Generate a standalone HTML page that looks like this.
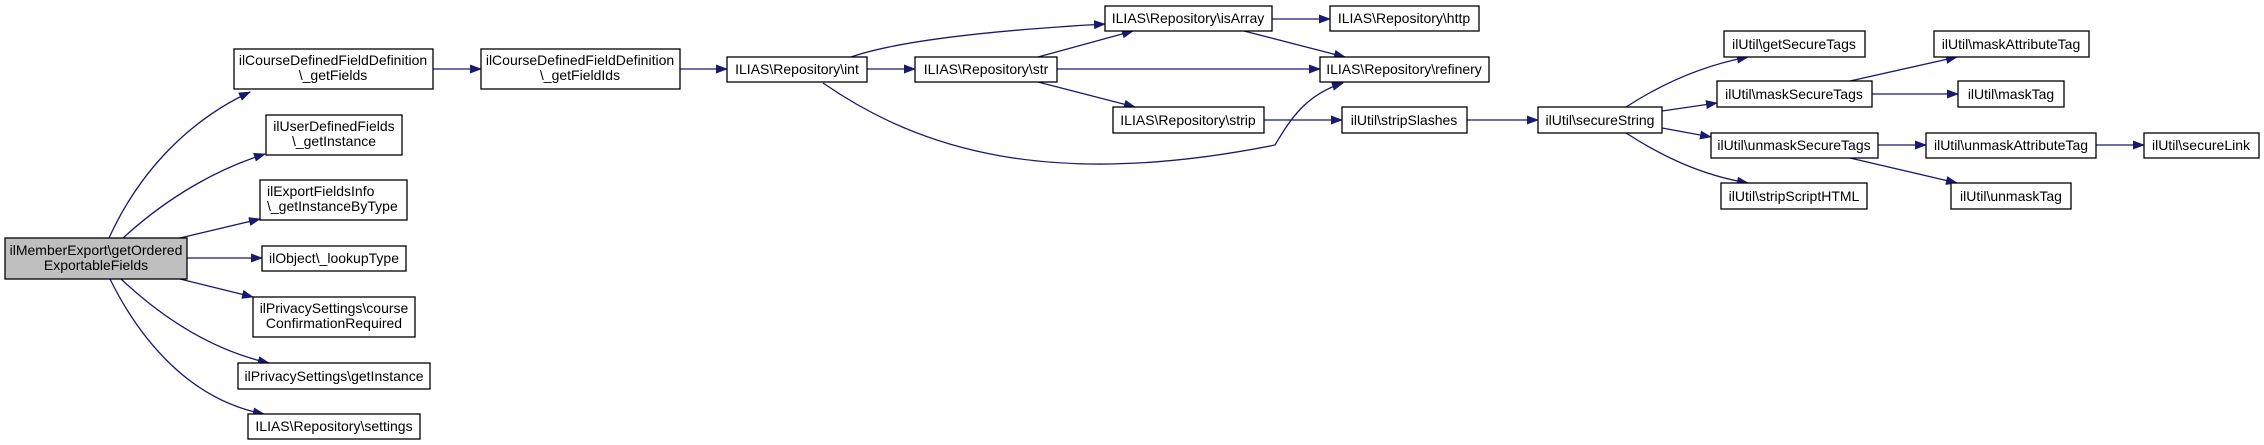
<!DOCTYPE html>
<html><head><meta charset="utf-8"><style>
html,body{margin:0;padding:0;background:#fff;}
svg{display:block;}
text{font-family:"Liberation Sans",Arial,sans-serif;font-size:14px;fill:#000;}
</style></head><body>
<svg width="2264" height="445" viewBox="0 0 2264 445" xmlns="http://www.w3.org/2000/svg">
<defs>
<marker id="a" markerWidth="12" markerHeight="9" refX="11" refY="4.5" orient="auto" markerUnits="userSpaceOnUse">
<path d="M0,0 L12,4.5 L0,9 Z" fill="#191970"/>
</marker>
</defs>
<g fill="none" stroke="#191970" stroke-width="1.3" marker-end="url(#a)">
<path d="M109,238 C140,170 190,120 250,92"/>
<path d="M123,238 C170,195 220,168 265,154"/>
<path d="M180,238 L260,219"/>
<path d="M187,258 L262,258"/>
<path d="M180,279 L253,297"/>
<path d="M121,279 C170,325 220,352 269,363"/>
<path d="M110,279 C140,340 190,400 264,414"/>
<path d="M433,69 L481,69"/>
<path d="M680,69 L727,69"/>
<path d="M851,57 C900,40 1000,30 1105,24"/>
<path d="M867,69 L915,69"/>
<path d="M823,83 C920,150 1050,190 1275,145 C1290,120 1305,95 1343,83"/>
<path d="M1038,57 L1133,31"/>
<path d="M1057,69 L1320,69"/>
<path d="M1038,82 L1135,107"/>
<path d="M1272,19 L1330,19"/>
<path d="M1244,31 L1345,57"/>
<path d="M1264,120 L1342,120"/>
<path d="M1467,120 L1538,120"/>
<path d="M1626,107 C1660,85 1700,66 1748,57"/>
<path d="M1662,111 L1717,103"/>
<path d="M1662,128 L1711,137"/>
<path d="M1626,133 C1660,155 1700,175 1748,183"/>
<path d="M1850,81 L1957,57"/>
<path d="M1872,94 L1958,94"/>
<path d="M1878,145 L1926,145"/>
<path d="M2096,145 L2144,145"/>
<path d="M1850,158 L1957,183"/>
</g>
<g stroke="#000" stroke-width="1.3" fill="#fff">
<rect x="5" y="238" width="182" height="41" fill="#bfbfbf"/>
<rect x="234" y="49" width="199" height="40"/>
<rect x="481" y="49" width="199" height="40"/>
<rect x="266" y="115" width="136" height="40"/>
<rect x="260" y="180" width="147" height="40"/>
<rect x="262" y="246" width="144" height="25"/>
<rect x="253" y="297" width="162" height="40"/>
<rect x="238" y="363" width="192" height="26"/>
<rect x="248" y="414" width="172" height="25"/>
<rect x="727" y="57" width="140" height="25"/>
<rect x="915" y="57" width="142" height="25"/>
<rect x="1105" y="6" width="167" height="25"/>
<rect x="1330" y="6" width="149" height="25"/>
<rect x="1320" y="57" width="169" height="25"/>
<rect x="1113" y="107" width="151" height="26"/>
<rect x="1342" y="107" width="125" height="26"/>
<rect x="1538" y="107" width="124" height="26"/>
<rect x="1724" y="31" width="141" height="26"/>
<rect x="1717" y="81" width="155" height="26"/>
<rect x="1711" y="133" width="167" height="25"/>
<rect x="1721" y="183" width="146" height="26"/>
<rect x="1934" y="31" width="155" height="26"/>
<rect x="1958" y="81" width="106" height="26"/>
<rect x="1926" y="133" width="170" height="25"/>
<rect x="2144" y="133" width="115" height="25"/>
<rect x="1951" y="183" width="120" height="26"/>
</g>
<g text-anchor="middle">
<text x="96" y="255">ilMemberExport\getOrdered</text>
<text x="96" y="270">ExportableFields</text>
<text x="333" y="65">ilCourseDefinedFieldDefinition</text>
<text x="333" y="80">\_getFields</text>
<text x="580" y="65">ilCourseDefinedFieldDefinition</text>
<text x="580" y="80">\_getFieldIds</text>
<text x="334" y="131">ilUserDefinedFields</text>
<text x="334" y="146">\_getInstance</text>
<text x="334" y="263">ilObject\_lookupType</text>
<text x="334" y="313">ilPrivacySettings\course</text>
<text x="334" y="328">ConfirmationRequired</text>
<text x="334" y="381">ilPrivacySettings\getInstance</text>
<text x="334" y="431">ILIAS\Repository\settings</text>
<text x="797" y="74">ILIAS\Repository\int</text>
<text x="986" y="74">ILIAS\Repository\str</text>
<text x="1188" y="23">ILIAS\Repository\isArray</text>
<text x="1404" y="23">ILIAS\Repository\http</text>
<text x="1404" y="74">ILIAS\Repository\refinery</text>
<text x="1188" y="125">ILIAS\Repository\strip</text>
<text x="1404" y="125">ilUtil\stripSlashes</text>
<text x="1600" y="125">ilUtil\secureString</text>
<text x="1794" y="49">ilUtil\getSecureTags</text>
<text x="1794" y="99">ilUtil\maskSecureTags</text>
<text x="1794" y="150">ilUtil\unmaskSecureTags</text>
<text x="1794" y="201">ilUtil\stripScriptHTML</text>
<text x="2011" y="49">ilUtil\maskAttributeTag</text>
<text x="2011" y="99">ilUtil\maskTag</text>
<text x="2011" y="150">ilUtil\unmaskAttributeTag</text>
<text x="2201" y="150">ilUtil\secureLink</text>
<text x="2011" y="201">ilUtil\unmaskTag</text>
</g>
<text x="267" y="196">ilExportFieldsInfo</text>
<text x="267" y="211">\_getInstanceByType</text>
</svg>
</body></html>
